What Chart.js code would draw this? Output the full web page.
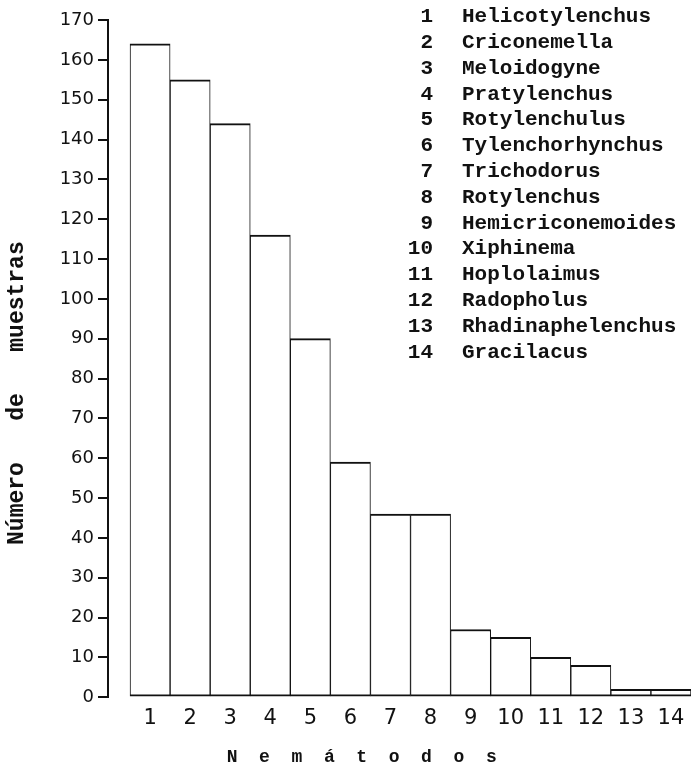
<!DOCTYPE html>
<html>
<head>
<meta charset="utf-8">
<script src="https://cdn.jsdelivr.net/npm/chart.js@4.4.1/dist/chart.umd.min.js"></script>
<style>
  html, body { margin: 0; padding: 0; background: #fff; }
  #wrap { width: 692px; height: 770px; position: relative; }
</style>
</head>
<body>
<div id="wrap"><canvas id="nematodeChart"></canvas></div>
<script>
// Nematode genera, numbered as on the x axis
const nematodeIds = [1, 2, 3, 4, 5, 6, 7, 8, 9, 10, 11, 12, 13, 14];
const nematodeNames = [
    'Helicotylenchus', 'Criconemella', 'Meloidogyne', 'Pratylenchus', 'Rotylenchulus',
    'Tylenchorhynchus', 'Trichodorus', 'Rotylenchus', 'Hemicriconemoides', 'Xiphinema',
    'Hoplolaimus', 'Radopholus', 'Rhadinaphelenchus', 'Gracilacus'
];
// number of samples where each genus was found
const sampleCounts = [164, 155, 144, 116, 90, 59, 46, 46, 17, 15, 10, 8, 2, 2];

const yMax = 170;
const yStep = 10;
const yTitle = 'Número   de   muestras';
const xTitle = 'N  e  m  á  t  o  d  o  s';

const ink = '#111';

// numbered list of genera in the upper right corner
const nematodeList = {
    id: 'nematodeList',
    afterDraw(chart, args, opts) {
        const ctx = chart.ctx;
        ctx.save();
        ctx.font = opts.font;
        ctx.fillStyle = opts.color;
        ctx.textBaseline = 'middle';
        nematodeNames.forEach((name, i) => {
            const y = opts.top + i * opts.rowHeight;
            ctx.textAlign = 'right';
            ctx.fillText(String(nematodeIds[i]), opts.numberX, y);
            ctx.textAlign = 'left';
            ctx.fillText(name, opts.nameX, y);
        });
        ctx.restore();
    }
};

const ctx = document.getElementById('nematodeChart').getContext('2d');
const chart = new Chart(ctx, {
    type: 'bar',
    data: {
        datasets: [{
            label: 'Número de muestras',
            data: nematodeIds.map((id, i) => ({ x: id, y: sampleCounts[i] })),
            backgroundColor: '#fff',
            borderColor: ink,
            borderWidth: { top: 2, bottom: 2, left: 1, right: 1 },
            borderSkipped: false,
            barPercentage: 1,
            categoryPercentage: 1,
        }]
    },
    options: {
        responsive: true,
        maintainAspectRatio: false,
        animation: false,
        layout: { padding: { top: 20, right: 1, bottom: 0, left: 0 } },
        plugins: {
            legend: { display: false },
            tooltip: { enabled: false },
            nematodeList: {
                font: 'bold 21px "Liberation Mono", monospace',
                color: ink,
                top: 17,
                rowHeight: 25.8,
                numberX: 433,
                nameX: 462,
            },
        },
        scales: {
            x: {
                type: 'linear',
                offset: false,
                min: -0.05,
                max: 14.5,
                afterBuildTicks: (scale) => {
                    scale.ticks = nematodeIds.map(v => ({ value: v }));
                },
                // no side padding for the end labels, keep the bars flush to the right
                afterFit: (scale) => {
                    scale.paddingLeft = 0;
                    scale.paddingRight = 0;
                },
                grid: { display: false, drawTicks: false, offset: false },
                border: { display: false },
                ticks: {
                    color: ink,
                    padding: 9,
                    font: { family: '"DejaVu Sans", sans-serif', size: 21 },
                    callback: (v) => String(v),
                },
                title: {
                    display: true,
                    text: xTitle + ' '.repeat(7),
                    color: ink,
                    font: { family: '"Liberation Mono", monospace', size: 18, weight: 'bold' },
                    padding: { top: 6, bottom: 2 },
                },
            },
            y: {
                min: 0,
                max: yMax,
                afterFit: (scale) => { scale.width = 108; },
                ticks: {
                    stepSize: yStep,
                    color: ink,
                    padding: 4,
                    font: { family: '"DejaVu Sans", sans-serif', size: 18 },
                },
                grid: {
                    drawOnChartArea: false,
                    drawTicks: true,
                    tickLength: 10,
                    color: ink,
                    lineWidth: 2,
                },
                border: { display: true, color: ink, width: 2 },
                title: {
                    display: true,
                    text: yTitle + ' '.repeat(5),
                    color: ink,
                    font: { family: '"Liberation Mono", monospace', size: 23, weight: 'bold' },
                    padding: { top: 3, bottom: 0 },
                },
            },
        },
    },
    plugins: [nematodeList],
});
</script>
</body>
</html>
